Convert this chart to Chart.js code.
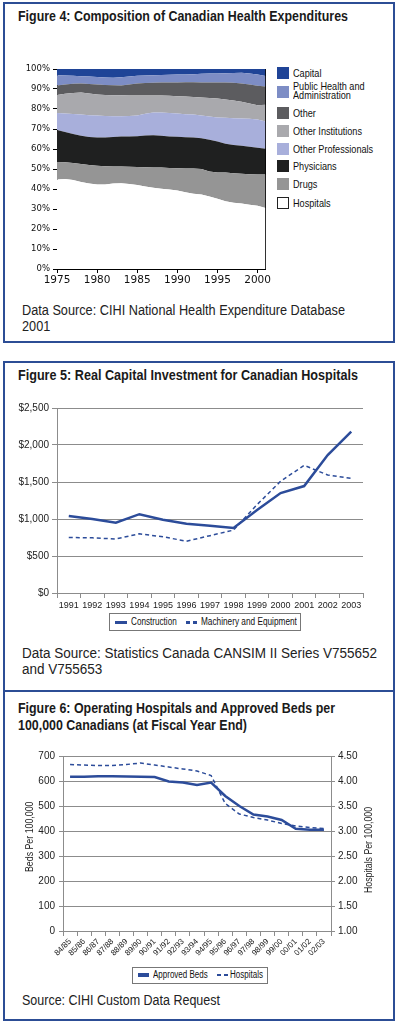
<!DOCTYPE html>
<html>
<head>
<meta charset="utf-8">
<script src="https://cdn.jsdelivr.net/npm/chart.js@4.4.1/dist/chart.umd.min.js"></script>
<style>
  body { margin: 0; width: 398px; height: 1024px; position: relative; background: #fff; overflow: hidden;
         font-family: "Liberation Sans", Arial, sans-serif; color: #222; }
  .panel { position: absolute; left: 3px; width: 388px; border: 2px solid #2c4d95; }
  .fit { transform-origin: 0 0; white-space: nowrap; }
  .title { position: absolute; left: 18px; font-weight: bold; font-size: 15px; line-height: 17px; color: #1a1a1a; }
  .source { position: absolute; left: 22px; font-size: 14px; line-height: 16px; color: #222; }
  canvas { position: absolute; left: 0; }
  .leg { position: absolute; font-size: 11px; color: #111; }
  .leg-item { position: absolute; left: 277px; height: 12px; line-height: 12px; white-space: nowrap; }
  .leg-item i { position: absolute; left: 0; top: 0; width: 12px; height: 12px; box-sizing: border-box; }
  .leg-item span { position: absolute; left: 16px; top: 0; transform: scaleX(0.83); transform-origin: 0 0; }
  .lbox { position: absolute; border: 1px solid #777; background: #fff; color: #111; }
  .lbox span { position: absolute; white-space: nowrap; transform-origin: 0 0; }
  .lbox b { position: absolute; display: block; background: #2c4c9a; }
  .axtitle { position: absolute; font-size: 10px; line-height: 12px; color: #222; white-space: nowrap; transform-origin: 0 0; }
</style>
</head>
<body>
<div class="panel" style="top:2px;height:337px"></div>
<div class="panel" style="top:361px;height:327px"></div>
<div class="panel" style="top:690px;height:327px"></div>

<div class="title fit" data-w="330" style="top:7px">Figure 4: Composition of Canadian Health Expenditures</div>
<canvas id="fig4" width="272" height="230" style="top:60px"></canvas>
<div id="fig4legend" class="leg"></div>
<div class="source fit" data-w="323" style="top:302px">Data Source: CIHI National Health Expenditure Database<br>2001</div>

<div class="title fit" data-w="340" style="top:366px">Figure 5: Real Capital Investment for Canadian Hospitals</div>
<canvas id="fig5" width="375" height="218" style="top:395px"></canvas>
<div class="lbox" style="left:109px;top:613px;width:190px;height:16px;font-size:11px">
  <b style="left:5px;top:7px;width:12px;height:3px"></b>
  <span style="left:21px;top:1px;line-height:13px;transform:scaleX(0.74)">Construction</span>
  <b style="left:76px;top:7px;width:4px;height:2.5px"></b>
  <b style="left:83px;top:7px;width:4px;height:2.5px"></b>
  <span style="left:91px;top:1px;line-height:13px;transform:scaleX(0.75)">Machinery and Equipment</span>
</div>
<div class="source fit" data-w="355" style="top:645px">Data Source: Statistics Canada CANSIM II Series V755652<br>and V755653</div>

<div class="title fit" data-w="317" style="top:699px">Figure 6: Operating Hospitals and Approved Beds per<br>100,000 Canadians (at Fiscal Year End)</div>
<canvas id="fig6" width="398" height="221" style="top:745px"></canvas>
<div class="axtitle" style="left:24px;top:872px;transform:rotate(-90deg) scaleX(0.88)">Beds Per 100,000</div>
<div class="axtitle" style="left:363px;top:893px;transform:rotate(-90deg) scaleX(0.875)">Hospitals Per 100,000</div>
<div class="lbox" style="left:132px;top:967px;width:134px;height:15px;font-size:10px">
  <b style="left:5px;top:5px;width:11px;height:4px"></b>
  <span style="left:20px;top:1px;line-height:12px;transform:scaleX(0.8)">Approved Beds</span>
  <b style="left:84px;top:6px;width:4px;height:2px"></b>
  <b style="left:91px;top:6px;width:4px;height:2px"></b>
  <span style="left:97px;top:1px;line-height:12px;transform:scaleX(0.8)">Hospitals</span>
</div>
<div class="source fit" data-w="198" style="top:992px">Source: CIHI Custom Data Request</div>

<script>
Chart.defaults.font.family = '"Liberation Sans", Arial, sans-serif';
Chart.defaults.font.size = 10;
Chart.defaults.color = "#222";

// Figure 4: share of total health expenditure (%), 1975-2001
const years = [1975, 1976, 1977, 1978, 1979, 1980, 1981, 1982, 1983, 1984, 1985, 1986, 1987, 1988,
  1989, 1990, 1991, 1992, 1993, 1994, 1995, 1996, 1997, 1998, 1999, 2000, 2001];
const yearTicks = [1975, 1980, 1985, 1990, 1995, 2000];
const hospitals = [44.7, 45.0, 44.5, 43.5, 42.8, 42.2, 42.3, 42.8, 42.9, 42.5, 42.0, 41.3, 40.6, 40.1,
  39.8, 39.2, 38.4, 37.6, 37.2, 36.2, 35.1, 33.9, 33.1, 32.7, 32.1, 31.6, 30.5];
const drugs = [8.8, 8.4, 8.5, 9.0, 9.2, 9.4, 9.1, 8.5, 8.3, 8.6, 9.0, 9.6, 10.2, 10.6,
  10.7, 11.2, 11.9, 12.6, 12.8, 12.5, 13.2, 14.3, 14.8, 14.9, 15.3, 15.7, 16.7];
const physicians = [16.0, 15.1, 14.5, 14.1, 14.0, 14.2, 14.4, 14.7, 15.0, 15.2, 15.4, 15.8, 16.1, 15.9,
  15.8, 15.7, 15.6, 15.5, 15.4, 15.9, 15.4, 14.4, 14.1, 14.0, 13.7, 13.3, 12.9];
const otherProfessionals = [8.5, 9.3, 10.0, 10.6, 10.9, 10.9, 10.7, 10.4, 10.2, 10.2, 10.4, 10.9, 11.3, 11.6,
  11.7, 11.6, 11.5, 11.5, 11.4, 11.7, 12.1, 13.0, 13.4, 13.7, 14.0, 14.2, 13.7];
const otherInstitutions = [9.0, 9.8, 10.5, 11.0, 10.9, 10.5, 10.5, 10.5, 10.5, 10.3, 10.0, 9.2, 8.6, 8.5,
  8.6, 8.7, 8.8, 8.8, 9.0, 9.2, 9.4, 9.2, 8.9, 8.3, 7.7, 7.1, 8.3];
const other = [4.8, 4.7, 4.6, 4.5, 4.7, 5.0, 5.0, 5.0, 4.9, 5.4, 5.9, 6.2, 6.3, 6.5,
  6.7, 6.9, 7.2, 7.4, 7.5, 7.7, 8.0, 8.4, 8.8, 9.2, 9.4, 9.7, 9.2];
const publicHealth = [5.1, 4.5, 4.0, 3.7, 3.7, 3.8, 3.7, 3.7, 4.1, 4.1, 3.9, 3.8, 3.8, 3.8,
  3.8, 3.9, 3.9, 4.0, 4.3, 4.5, 4.6, 4.7, 4.9, 5.3, 5.5, 5.6, 5.2];
const capital = [3.1, 3.2, 3.4, 3.6, 3.8, 4.0, 4.3, 4.4, 4.1, 3.7, 3.4, 3.2, 3.1, 3.0,
  2.9, 2.8, 2.7, 2.6, 2.4, 2.3, 2.2, 2.1, 2.0, 1.9, 2.3, 2.8, 3.5];

// Figure 5: real capital investment ($ millions)
const investYears = ["1991", "1992", "1993", "1994", "1995", "1996", "1997", "1998", "1999", "2000", "2001", "2002", "2003"];
const construction = [1040, 1000, 950, 1065, 990, 935, 910, 880, 1120, 1350, 1445, 1865, 2180];
const machinery = [750, 745, 730, 800, 760, 700, 775, 850, 1195, 1510, 1725, 1595, 1550];

// Figure 6: per 100,000 Canadians
const fiscalYears = ["84/85", "85/86", "86/87", "87/88", "88/89", "89/90", "90/91", "91/92", "92/93", "93/94",
  "94/95", "95/96", "96/97", "97/98", "98/99", "99/00", "00/01", "01/02", "02/03"];
const approvedBeds = [617, 617, 619, 619, 618, 617, 616, 598, 594, 584, 594, 540, 500, 466, 458, 444, 409, 405, 405];
const hospitalsPer = [4.33, 4.32, 4.31, 4.31, 4.33, 4.36, 4.32, 4.28, 4.24, 4.20, 4.11, 3.55, 3.34, 3.27, 3.22, 3.15, 3.10, 3.07, 3.05];

const fig4Series = [
  { label: "Hospitals", data: hospitals, color: "#ffffff" },
  { label: "Drugs", data: drugs, color: "#959595" },
  { label: "Physicians", data: physicians, color: "#1f2020" },
  { label: "Other Professionals", data: otherProfessionals, color: "#a8afdb" },
  { label: "Other Institutions", data: otherInstitutions, color: "#a9a9ad" },
  { label: "Other", data: other, color: "#5c5c5f" },
  { label: "Public Health and Administration", data: publicHealth, color: "#7d8dc5" },
  { label: "Capital", data: capital, color: "#1f4497" }
];

const blue = "#2c4c9a";
const gridGrey = "#8c8c8c";

// squeeze text blocks to the width they have in the printed figure
document.querySelectorAll(".fit").forEach(el => {
  const w = el.getBoundingClientRect().width;
  el.style.transform = `scaleX(${el.dataset.w / w})`;
});

new Chart(document.getElementById("fig4"), {
  type: "line",
  data: {
    datasets: fig4Series.map((s, i) => ({
      label: s.label,
      data: s.data.map((v, j) => ({ x: years[j], y: v })),
      backgroundColor: s.color,
      borderColor: s.color,
      borderWidth: 0,
      pointRadius: 0,
      tension: 0,
      fill: i === 0 ? "origin" : "-1"
    }))
  },
  options: {
    responsive: false,
    animation: false,
    devicePixelRatio: 1,
    layout: { padding: { top: 9, left: 0, right: 0, bottom: 0 } },
    plugins: { legend: { display: false }, tooltip: { enabled: false } },
    scales: {
      x: {
        type: "linear", min: 1975, max: 2001,
        afterBuildTicks: s => { s.ticks = yearTicks.map(v => ({ value: v })); },
        afterFit: s => { s.height = 21; },
        ticks: { color: "#111", padding: 1, maxRotation: 0, font: { family: '"DejaVu Sans", sans-serif', size: 10.5 }, callback: v => String(v) },
        grid: { drawOnChartArea: false, tickLength: 4, color: "#000" },
        border: { color: "#000" }
      },
      y: {
        stacked: true, min: 0, max: 100,
        afterFit: s => { s.width = 57; },
        ticks: { stepSize: 10, color: "#111", padding: 3, font: { family: '"DejaVu Sans", sans-serif', size: 8.5 }, callback: v => v + "%" },
        grid: { drawOnChartArea: false, tickLength: 4, color: "#000" },
        border: { color: "#000" }
      },
      yR: {
        position: "right", min: 0, max: 100,
        afterFit: s => { s.width = 2; },
        ticks: { display: false },
        grid: { display: false },
        border: { display: true, color: "#000" }
      }
    }
  }
});

// legend for figure 4 (top item first)
const legendRows = [
  { label: "Capital", color: "#1f4497", y: 73 },
  { label: "Public Health and<br>Administration", color: "#7d8dc5", y: 92 },
  { label: "Other", color: "#5c5c5f", y: 113 },
  { label: "Other Institutions", color: "#a9a9ad", y: 131 },
  { label: "Other Professionals", color: "#a8afdb", y: 149 },
  { label: "Physicians", color: "#1f2020", y: 166 },
  { label: "Drugs", color: "#959595", y: 184 },
  { label: "Hospitals", color: "#ffffff", y: 203 }
];
document.getElementById("fig4legend").innerHTML = legendRows.map(r => {
  const two = r.label.includes("<br>");
  const border = r.color === "#ffffff" ? "border:1px solid #222;" : "";
  return `<div class="leg-item" style="top:${r.y - 6}px"><i style="background:${r.color};${border}"></i>` +
    `<span style="${two ? "top:-4px;line-height:9px" : ""}">${r.label}</span></div>`;
}).join("");

new Chart(document.getElementById("fig5"), {
  type: "line",
  data: {
    labels: investYears,
    datasets: [
      { label: "Construction", data: construction, borderColor: blue, borderWidth: 2.5, pointRadius: 0, tension: 0 },
      { label: "Machinery and Equipment", data: machinery, borderColor: blue, borderWidth: 1.5, borderDash: [4, 3], pointRadius: 0, tension: 0 }
    ]
  },
  options: {
    responsive: false,
    animation: false,
    devicePixelRatio: 1,
    layout: { padding: { top: 13, left: 0, right: 12, bottom: 0 } },
    plugins: { legend: { display: false }, tooltip: { enabled: false } },
    scales: {
      x: {
        offset: true,
        afterFit: s => { s.height = 20; },
        ticks: { color: "#222", padding: 2, maxRotation: 0, autoSkip: false, font: { size: 9 } },
        grid: { offset: true, drawOnChartArea: false, tickLength: 5, color: gridGrey },
        border: { color: gridGrey }
      },
      y: {
        min: 0, max: 2500,
        afterFit: s => { s.width = 57; },
        ticks: { stepSize: 500, color: "#222", padding: 3, callback: v => "$" + v.toLocaleString("en-US") },
        grid: { color: gridGrey, tickLength: 5 },
        border: { color: gridGrey }
      }
    }
  }
});

new Chart(document.getElementById("fig6"), {
  type: "line",
  data: {
    labels: fiscalYears,
    datasets: [
      { label: "Approved Beds", data: approvedBeds, yAxisID: "y", borderColor: blue, borderWidth: 2.5, pointRadius: 0, tension: 0 },
      { label: "Hospitals", data: hospitalsPer, yAxisID: "y2", borderColor: blue, borderWidth: 1.5, borderDash: [4, 3], pointRadius: 0, tension: 0 }
    ]
  },
  options: {
    responsive: false,
    animation: false,
    devicePixelRatio: 1,
    layout: { padding: { top: 11, left: 0, right: 0, bottom: 0 } },
    plugins: { legend: { display: false }, tooltip: { enabled: false } },
    scales: {
      x: {
        offset: true,
        afterFit: s => { s.height = 35; },
        ticks: { color: "#222", font: { size: 8 }, padding: 1, minRotation: 45, maxRotation: 45, autoSkip: false },
        grid: { offset: true, drawOnChartArea: false, tickLength: 5, color: gridGrey },
        border: { color: gridGrey }
      },
      y: {
        min: 0, max: 700,
        afterFit: s => { s.width = 63; },
        ticks: { stepSize: 100, color: "#222", padding: 4 },
        grid: { color: gridGrey, tickLength: 4 },
        border: { color: gridGrey }
      },
      y2: {
        position: "right", min: 1, max: 4.5,
        afterFit: s => { s.width = 67; },
        ticks: { stepSize: 0.5, color: "#222", padding: 3, callback: v => v.toFixed(2) },
        grid: { drawOnChartArea: false, tickLength: 4, color: gridGrey },
        border: { color: gridGrey }
      }
    }
  }
});
</script>
</body>
</html>
